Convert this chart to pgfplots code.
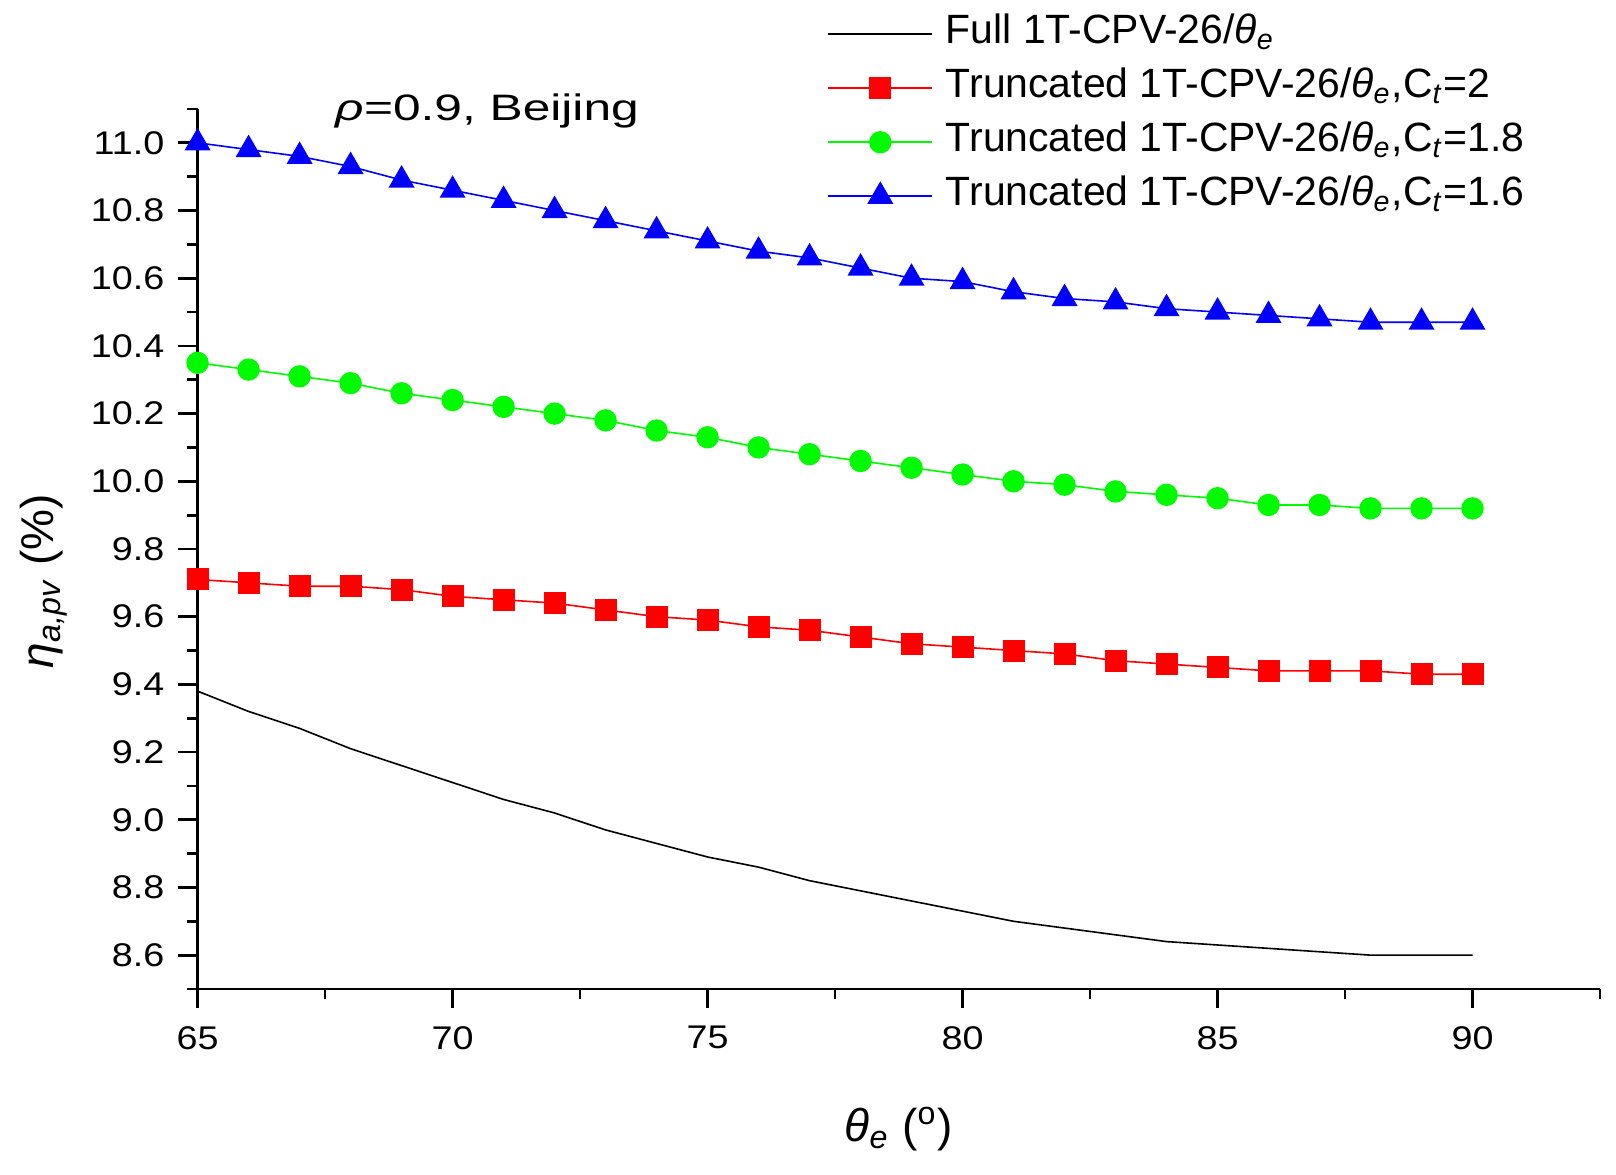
\documentclass[border=0pt]{standalone}
\usepackage{pgfplots}
\pgfplotsset{compat=1.18}
\usepackage{fontspec}
\setmainfont{Liberation Sans}
\newfontfamily\tickfont{Liberation Sans}[FakeStretch=1.15]
\newfontfamily\rhofont{Liberation Sans}[FakeStretch=1.35]
\definecolor{cred}{RGB}{255,0,0}
\definecolor{cgreen}{RGB}{0,250,0}
\definecolor{cblue}{RGB}{0,0,255}
\begin{document}
\begin{tikzpicture}
\begin{axis}[
  name=ax,
  at={(0,0)}, anchor=south west,
  scale only axis,
  width=350.6pt, height=220pt,
  xmin=65, xmax=92.5, ymin=8.5, ymax=11.1,
  clip=false,
  axis x line*=bottom, axis y line*=left,
  axis line style={-, line width=0.7pt, black},
  tick align=outside,
  every tick/.append style={line width=0.7pt, black},
  major tick length=4.8pt, minor tick length=2.6pt,
  xtick={65,70,75,80,85,90},
  minor xtick={67.5,72.5,77.5,82.5,87.5,92.5},
  ytick={8.6,8.8,9.0,9.2,9.4,9.6,9.8,10.0,10.2,10.4,10.6,10.8,11.0},
  minor ytick={8.5,8.7,8.9,9.1,9.3,9.5,9.7,9.9,10.1,10.3,10.5,10.7,10.9,11.1},
  /pgf/number format/assume math mode=true,
  tick label style={font=\tickfont\fontsize{8.2}{9.8}\selectfont},
  yticklabel style={/pgf/number format/.cd, fixed, fixed zerofill, precision=1},
  xticklabel style={yshift=-1pt},
  xlabel={\textit{θ}\textsubscript{\textit{e}} (\textsuperscript{o})},
  ylabel={\textit{η}\textsubscript{\textit{a,pv}} (\%)},
  label style={font=\fontsize{11.5}{13.8}\selectfont},
  x label style={at={(axis description cs:0.5,-0.1735)}, anchor=base},
  y label style={at={(axis description cs:-0.1096,0.4636)}, anchor=center, rotate=0},
  legend style={
    at={(rel axis cs:0.4486,1.109)}, anchor=north west,
    draw=none, fill=none, inner sep=0pt,
    font=\fontsize{10.23}{12.3}\selectfont,
    row sep=3.3pt,
    nodes={inner sep=0pt, text height=7.5pt, text depth=2.7pt},
    /tikz/every odd column/.append style={column sep=3.2pt},
  },
  legend cell align=left,
  legend image code/.code={%
    \draw[mark repeat=2,mark phase=2,#1] plot coordinates {(0pt,0pt) (13pt,0pt) (26pt,0pt)};%
  },
]
\addplot[black, line width=0.4pt, mark=none] coordinates {
(65,9.38) (66,9.32) (67,9.27) (68,9.21) (69,9.16) (70,9.11) (71,9.06) (72,9.02)
(73,8.97) (74,8.93) (75,8.89) (76,8.86) (77,8.82) (78,8.79) (79,8.76) (80,8.73)
(81,8.70) (82,8.68) (83,8.66) (84,8.64) (85,8.63) (86,8.62) (87,8.61) (88,8.60)
(89,8.60) (90,8.60)};
\addlegendentry{Full 1T-CPV-26/\textit{θ}\textsubscript{\textit{e}}}

\addplot[cred, line width=0.4pt, mark=square*, mark size=2.55pt, mark options={solid, fill=cred, draw=cred}] coordinates {
(65,9.71) (66,9.70) (67,9.69) (68,9.69) (69,9.68) (70,9.66) (71,9.65) (72,9.64)
(73,9.62) (74,9.60) (75,9.59) (76,9.57) (77,9.56) (78,9.54) (79,9.52) (80,9.51)
(81,9.50) (82,9.49) (83,9.47) (84,9.46) (85,9.45) (86,9.44) (87,9.44) (88,9.44)
(89,9.43) (90,9.43)};
\addlegendentry{Truncated 1T-CPV-26/\textit{θ}\textsubscript{\textit{e}},C\textsubscript{\textit{t}}=2}

\addplot[cgreen, line width=0.4pt, mark=*, mark size=2.6pt, mark options={solid, fill=cgreen, draw=cgreen}] coordinates {
(65,10.35) (66,10.33) (67,10.31) (68,10.29) (69,10.26) (70,10.24) (71,10.22) (72,10.20)
(73,10.18) (74,10.15) (75,10.13) (76,10.10) (77,10.08) (78,10.06) (79,10.04) (80,10.02)
(81,10.00) (82,9.99) (83,9.97) (84,9.96) (85,9.95) (86,9.93) (87,9.93) (88,9.92)
(89,9.92) (90,9.92)};
\addlegendentry{Truncated 1T-CPV-26/\textit{θ}\textsubscript{\textit{e}},C\textsubscript{\textit{t}}=1.8}

\addplot[cblue, line width=0.4pt, mark=triangle*, mark size=3.35pt, mark options={solid, fill=cblue, draw=cblue}] coordinates {
(65,11.00) (66,10.98) (67,10.96) (68,10.93) (69,10.89) (70,10.86) (71,10.83) (72,10.80)
(73,10.77) (74,10.74) (75,10.71) (76,10.68) (77,10.66) (78,10.63) (79,10.60) (80,10.59)
(81,10.56) (82,10.54) (83,10.53) (84,10.51) (85,10.50) (86,10.49) (87,10.48) (88,10.47)
(89,10.47) (90,10.47)};
\addlegendentry{Truncated 1T-CPV-26/\textit{θ}\textsubscript{\textit{e}},C\textsubscript{\textit{t}}=1.6}

\node[anchor=base west, inner sep=0pt, font=\rhofont\fontsize{9.2}{11}\selectfont] at (axis cs:67.69,11.067) {\textit{ρ}=0.9, Beijing};
\end{axis}
\pgfresetboundingbox
\path (ax.south west) ++(-49.4pt,-46.5pt) rectangle ++(404pt,293.75pt);
\end{tikzpicture}
\end{document}
